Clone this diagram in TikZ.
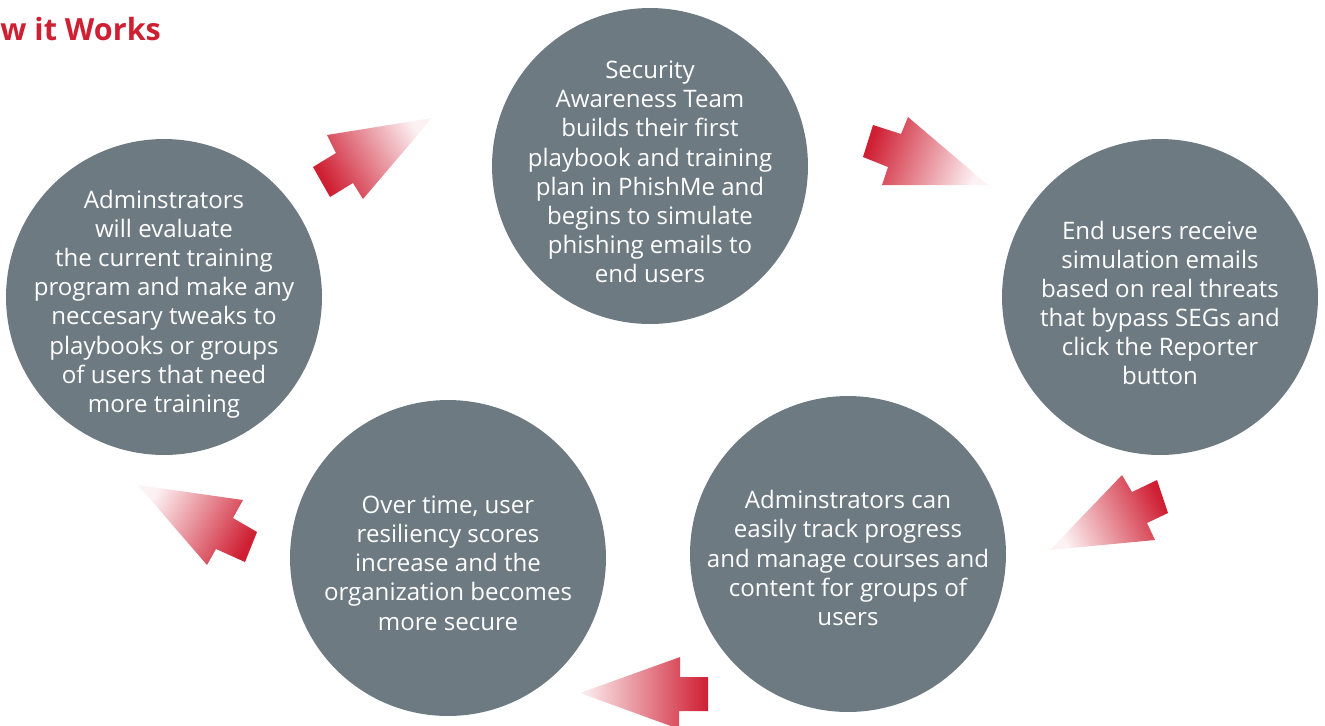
\documentclass[tikz,border=0pt]{standalone}
\usepackage{fontspec}
\setmainfont{Open Sans}
\definecolor{stepgray}{RGB}{110,122,130}
\definecolor{stepred}{RGB}{207,31,51}
\tikzset{
  x=0.02cm, y=-0.02cm,
  stepcircle/.style={circle, fill=stepgray, draw=none, minimum size=6.32cm, inner sep=0pt},
  steptext/.style={text=white, align=center, font=\fontsize{13.7}{16.6}\selectfont, inner sep=0pt},
  blockarrow/.style={left color=stepred, middle color=stepred!62!white, right color=stepred!6!white, draw=none},
  titletext/.style={text=stepred, font=\fontsize{17.4}{22}\selectfont\bfseries, inner sep=0pt, anchor=base west}
}
\begin{document}
\begin{tikzpicture}
\useasboundingbox (0,0) rectangle (1325,725);
\clip (0,0) rectangle (1325,725);

\node[titletext] (title) at (0,40) {w it Works};

% circles
\node[stepcircle] (c1) at (650,166) {};
\node[stepcircle] (c2) at (1160,297) {};
\node[stepcircle] (c3) at (848,554) {};
\node[stepcircle] (c4) at (448,558) {};
\node[stepcircle] (c5) at (164,297) {};

% texts
\node[steptext] (t1) at ([yshift=-0.12cm]c1.center) {Security\\Awareness Team\\builds their first\\playbook and training\\plan in PhishMe and\\begins to simulate\\phishing emails to\\end users};
\node[steptext] (t2) at ([yshift=-0.12cm]c2.center) {End users receive\\simulation emails\\based on real threats\\that bypass SEGs and\\click the Reporter\\button};
\node[steptext] (t3) at ([yshift=-0.08cm]c3.center) {Adminstrators can\\easily track progress\\and manage courses and\\content for groups of\\users};
\node[steptext] (t4) at ([yshift=-0.1cm]c4.center) {Over time, user\\resiliency scores\\increase and the\\organization becomes\\more secure};
\node[steptext] (t5) at ([yshift=-0.14cm]c5.center) {Adminstrators\\will evaluate\\the current training\\program and make any\\neccesary tweaks to\\playbooks or groups\\of users that need\\more training};

% gradient block arrows (red tail -> white tip)
\shade[blockarrow, shading angle=120]
  (432,118) -- (327,135) -- (336,153) -- (313,167) -- (330,197) -- (353,183) -- (363,199) -- cycle;
\shade[blockarrow, shading angle=70]
  (873,125) -- (901,134) -- (908,117) -- (988,185) -- (882,185) -- (888,167) -- (863,157) -- cycle;
\shade[blockarrow, shading angle=295]
  (1157,480) -- (1132,492) -- (1122,475) -- (1050,550) -- (1155,540) -- (1147,523) -- (1168,513) -- cycle;
\shade[blockarrow, shading angle=270]
  (708,677) -- (680,677) -- (680,657) -- (580,693) -- (679,729) -- (679,711) -- (708,711) -- cycle;
\shade[blockarrow, shading angle=241]
  (138,485) -- (243,500) -- (233,518) -- (257,532) -- (245,562) -- (216,549) -- (207,565) -- cycle;
\end{tikzpicture}
\end{document}
